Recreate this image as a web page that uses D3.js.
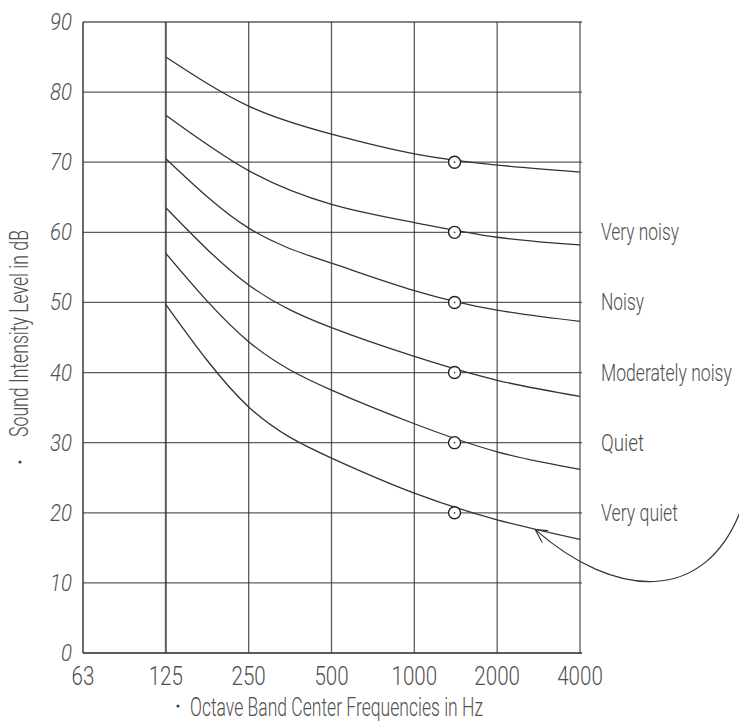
<!DOCTYPE html>
<html>
<head>
<meta charset="utf-8">
<script src="https://cdn.jsdelivr.net/npm/d3@7/dist/d3.min.js"></script>
<style>
  html, body { margin: 0; padding: 0; background: #fff; }
  svg { display: block; }
  text { font-family: Roboto, "Open Sans", "DejaVu Sans", sans-serif; font-weight: 300; fill: #505050; }
</style>
</head>
<body>
<svg id="chart" width="739" height="725"></svg>
<script>
// ---- data ----
const freqTicks = [62.5, 125, 250, 500, 1000, 2000, 4000];
const freqLabels = ["63", "125", "250", "500", "1000", "2000", "4000"];
const dbTicks = [0, 10, 20, 30, 40, 50, 60, 70, 80, 90];
const curveFreqs = [125, 250, 500, 1000, 2000, 4000];
const curve70 = [85.0, 78.0, 74.0, 71.2, 69.6, 68.6];
const curve60 = [76.7, 68.8, 64.0, 61.4, 59.3, 58.2];
const curve50 = [70.5, 60.6, 55.6, 51.7, 48.9, 47.3];
const curve40 = [63.5, 52.5, 46.4, 42.3, 38.9, 36.6];
const curve30 = [57.0, 44.4, 37.5, 32.7, 28.7, 26.2];
const curve20 = [49.7, 35.1, 27.8, 22.8, 19.0, 16.2];
const markerFreq = 1400;
const markerValues = [70, 60, 50, 40, 30, 20];
const ratingLabels = ["Very noisy", "Noisy", "Moderately noisy", "Quiet", "Very quiet"];
const ratingLevels = [60, 50, 40, 30, 20];
const arrowTip = { freq: 2750, db: 17.6 };
const xTitle = "Octave Band Center Frequencies in Hz";
const yTitle = "Sound Intensity Level in dB";

// ---- layout ----
const svg = d3.select("#chart");
const x = d3.scaleLog().base(2).domain([62.5, 4000]).range([83, 580]);
const y = d3.scaleLinear().domain([0, 90]).range([653, 22]);
const ink = "#333";

// grid
const g = svg.append("g");
g.selectAll("line.h").data(dbTicks).join("line")
  .attr("x1", x(62.5)).attr("x2", x(4000) + 2)
  .attr("y1", d => y(d)).attr("y2", d => y(d))
  .attr("stroke", ink).attr("stroke-width", d => (d === 0 ? 1.8 : 1.3)).attr("stroke-opacity", 0.8);
g.selectAll("line.v").data(freqTicks).join("line")
  .attr("x1", d => x(d)).attr("x2", d => x(d))
  .attr("y1", y(90)).attr("y2", y(0))
  .attr("stroke", ink)
  .attr("stroke-width", d => (d === 125 ? 2 : d === 62.5 ? 1.8 : 1.3))
  .attr("stroke-opacity", 0.8);

// y tick labels
svg.append("g").selectAll("text").data(dbTicks).join("text")
  .attr("x", 72).attr("y", d => y(d))
  .attr("text-anchor", "end").attr("dominant-baseline", "central")
  .attr("font-size", 24).attr("font-style", "italic")
  .attr("textLength", d => String(d).length * 11).attr("lengthAdjust", "spacingAndGlyphs")
  .text(d => d);

// x tick labels
svg.append("g").selectAll("text").data(freqTicks).join("text")
  .attr("x", d => x(d)).attr("y", 685)
  .attr("text-anchor", "middle")
  .attr("font-size", 26)
  .attr("textLength", (d, i) => freqLabels[i].length * 11.4).attr("lengthAdjust", "spacingAndGlyphs")
  .text((d, i) => freqLabels[i]);

// curves
const curves = [curve70, curve60, curve50, curve40, curve30, curve20];
const line = d3.line()
  .x((d, i) => x(curveFreqs[i]))
  .y(d => y(d))
  .curve(d3.curveNatural);
svg.append("g").selectAll("path").data(curves).join("path")
  .attr("d", d => line(d))
  .attr("fill", "none").attr("stroke", "#333").attr("stroke-width", 1.3);

// markers
const mk = svg.append("g");
mk.selectAll("circle.o").data(markerValues).join("circle")
  .attr("cx", x(markerFreq)).attr("cy", d => y(d)).attr("r", 6)
  .attr("fill", "#fff").attr("stroke", "#222").attr("stroke-width", 1.4);
mk.selectAll("circle.c").data(markerValues).join("circle")
  .attr("cx", x(markerFreq)).attr("cy", d => y(d)).attr("r", 0.9)
  .attr("fill", "#444");

// rating labels (horizontally condensed with a scale transform)
const labelWidths = { "Very noisy": 78, "Noisy": 43, "Moderately noisy": 131, "Quiet": 43, "Very quiet": 77 };
const lg = svg.append("g").selectAll("g").data(ratingLabels).join("g")
  .attr("transform", (d, i) => `translate(601,${y(ratingLevels[i])})`);
lg.append("text")
  .attr("x", 0).attr("y", 0)
  .attr("dominant-baseline", "central")
  .attr("font-size", 24)
  .text(d => d)
  .each(function (d) {
    const w = this.getComputedTextLength();
    const k = labelWidths[d] / w;
    d3.select(this).attr("transform", `scale(${k},1)`);
  });

// axis titles
svg.append("text")
  .attr("x", 190).attr("y", 716)
  .attr("font-size", 26)
  .attr("textLength", 293).attr("lengthAdjust", "spacingAndGlyphs")
  .text(xTitle);
svg.append("circle").attr("cx", 178).attr("cy", 706).attr("r", 1.6).attr("fill", "#444");

svg.append("text")
  .attr("transform", "translate(28,437) rotate(-90)")
  .attr("font-size", 25)
  .attr("textLength", 207).attr("lengthAdjust", "spacingAndGlyphs")
  .text(yTitle);
svg.append("circle").attr("cx", 20).attr("cy", 462).attr("r", 1.6).attr("fill", "#444");

// annotation arrow pointing at the lowest curve
const tx = x(arrowTip.freq), ty = y(arrowTip.db);
const sx = 741, sy = ty - 20;
svg.append("path")
  .attr("d", `M${sx},${sy} C${tx + 170},${ty + 75} ${tx + 80},${ty + 70} ${tx},${ty}`)
  .attr("fill", "none").attr("stroke", "#333").attr("stroke-width", 1.2);
svg.append("path")
  .attr("d", `M${tx + 13},${ty + 1} L${tx},${ty} L${tx + 7},${ty + 13}`)
  .attr("fill", "none").attr("stroke", "#333").attr("stroke-width", 1.1);
</script>
</body>
</html>
